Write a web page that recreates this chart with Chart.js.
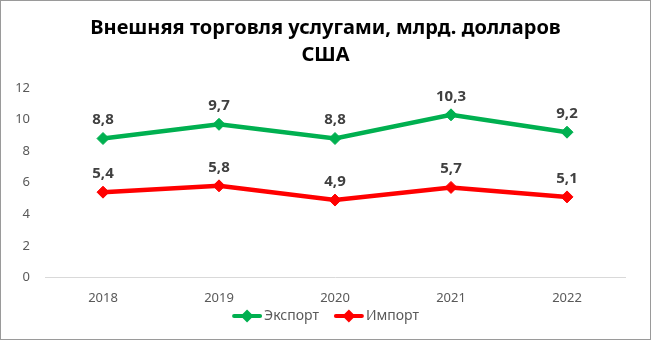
<!DOCTYPE html>
<html>
<head>
<meta charset="utf-8">
<script src="https://cdn.jsdelivr.net/npm/chart.js@4"></script>
<style>
  html, body { margin: 0; padding: 0; background: #fff; }
  #wrap { position: relative; width: 649px; height: 338px; border: 1px solid #9a9a9a; }
</style>
</head>
<body>
<div id="wrap"><canvas id="c" width="649" height="338"></canvas></div>
<script>
const years = ['2018', '2019', '2020', '2021', '2022'];
const exportValues = [8.8, 9.7, 8.8, 10.3, 9.2];
const importValues = [5.4, 5.8, 4.9, 5.7, 5.1];
const yTicks = [0, 2, 4, 6, 8, 10, 12];

const GREEN = '#00b050';
const RED = '#ff0000';
const FONT = '"Noto Sans"';

// value of each point written above its marker
const valueLabels = {
  id: 'valueLabels',
  afterDatasetsDraw(chart) {
    const ctx = chart.ctx;
    ctx.save();
    ctx.font = 'bold 15px ' + FONT;
    ctx.fillStyle = '#404040';
    ctx.textAlign = 'center';
    ctx.textBaseline = 'bottom';
    chart.data.datasets.forEach((ds, i) => {
      chart.getDatasetMeta(i).data.forEach((pt, j) => {
        ctx.fillText(ds.data[j].toFixed(1).replace('.', ','), pt.x, pt.y - 11);
      });
    });
    ctx.restore();
  }
};

// bottom legend: line + diamond symbol followed by the series name
const lineLegend = {
  id: 'lineLegend',
  afterDraw(chart) {
    const ctx = chart.ctx;
    const y = 315;
    const symW = 30, symGap = 2, itemGap = 15;
    ctx.save();
    ctx.font = '14px ' + FONT;
    const items = chart.data.datasets.map(ds => ({
      color: ds.borderColor, text: ds.label, tw: ctx.measureText(ds.label).width
    }));
    const total = items.reduce((s, it) => s + symW + symGap + it.tw, 0) + itemGap * (items.length - 1);
    let x = chart.width / 2 - total / 2;
    items.forEach(it => {
      ctx.strokeStyle = it.color; ctx.fillStyle = it.color;
      ctx.lineWidth = 4; ctx.lineCap = 'round';
      ctx.beginPath(); ctx.moveTo(x + 2, y); ctx.lineTo(x + symW - 2, y); ctx.stroke();
      const cx = x + symW / 2;
      ctx.beginPath();
      ctx.moveTo(cx, y - 6.5); ctx.lineTo(cx + 6.5, y); ctx.lineTo(cx, y + 6.5); ctx.lineTo(cx - 6.5, y);
      ctx.closePath(); ctx.fill();
      ctx.fillStyle = '#595959';
      ctx.textAlign = 'left'; ctx.textBaseline = 'middle';
      ctx.fillText(it.text, x + symW + symGap, y);
      x += symW + symGap + it.tw + itemGap;
    });
    ctx.restore();
  }
};

new Chart(document.getElementById('c'), {
  type: 'line',
  data: {
    labels: years,
    datasets: [
      {
        label: 'Экспорт', data: exportValues, borderColor: GREEN, backgroundColor: GREEN,
        borderWidth: 4.5, pointStyle: 'rectRot', pointRadius: 6, pointHoverRadius: 6,
        pointBorderWidth: 1, pointBackgroundColor: GREEN, pointBorderColor: GREEN, tension: 0
      },
      {
        label: 'Импорт', data: importValues, borderColor: RED, backgroundColor: RED,
        borderWidth: 4.5, pointStyle: 'rectRot', pointRadius: 6, pointHoverRadius: 6,
        pointBorderWidth: 1, pointBackgroundColor: RED, pointBorderColor: RED, tension: 0
      }
    ]
  },
  options: {
    responsive: false,
    animation: false,
    events: [],
    layout: { padding: { left: 0, right: 0, top: 14, bottom: 28 } },
    plugins: {
      title: {
        display: true,
        text: ['Внешняя торговля услугами, млрд. долларов', 'США'],
        color: '#000',
        font: { family: FONT, size: 20, weight: 'bold', lineHeight: 1.35 },
        padding: { top: 0, bottom: 19 }
      },
      legend: { display: false },
      tooltip: { enabled: false }
    },
    scales: {
      x: {
        offset: true,
        grid: { display: false },
        border: { display: true, color: '#d9d9d9', width: 1 },
        ticks: { color: '#595959', font: { family: FONT, size: 13 }, padding: 5 }
      },
      y: {
        min: 0, max: 12,
        afterBuildTicks(scale) { scale.ticks = yTicks.map(v => ({ value: v })); },
        afterFit(scale) { scale.width = 44; },
        grid: { display: false },
        border: { display: false },
        ticks: { color: '#595959', font: { family: FONT, size: 13 }, padding: 7 }
      },
      // empty right-hand margin so the plot ends short of the frame
      yRight: {
        position: 'right',
        display: true,
        min: 0, max: 12,
        afterFit(scale) { scale.width = 25; },
        grid: { display: false },
        border: { display: false },
        ticks: { display: false }
      }
    }
  },
  plugins: [valueLabels, lineLegend]
});
</script>
</body>
</html>
